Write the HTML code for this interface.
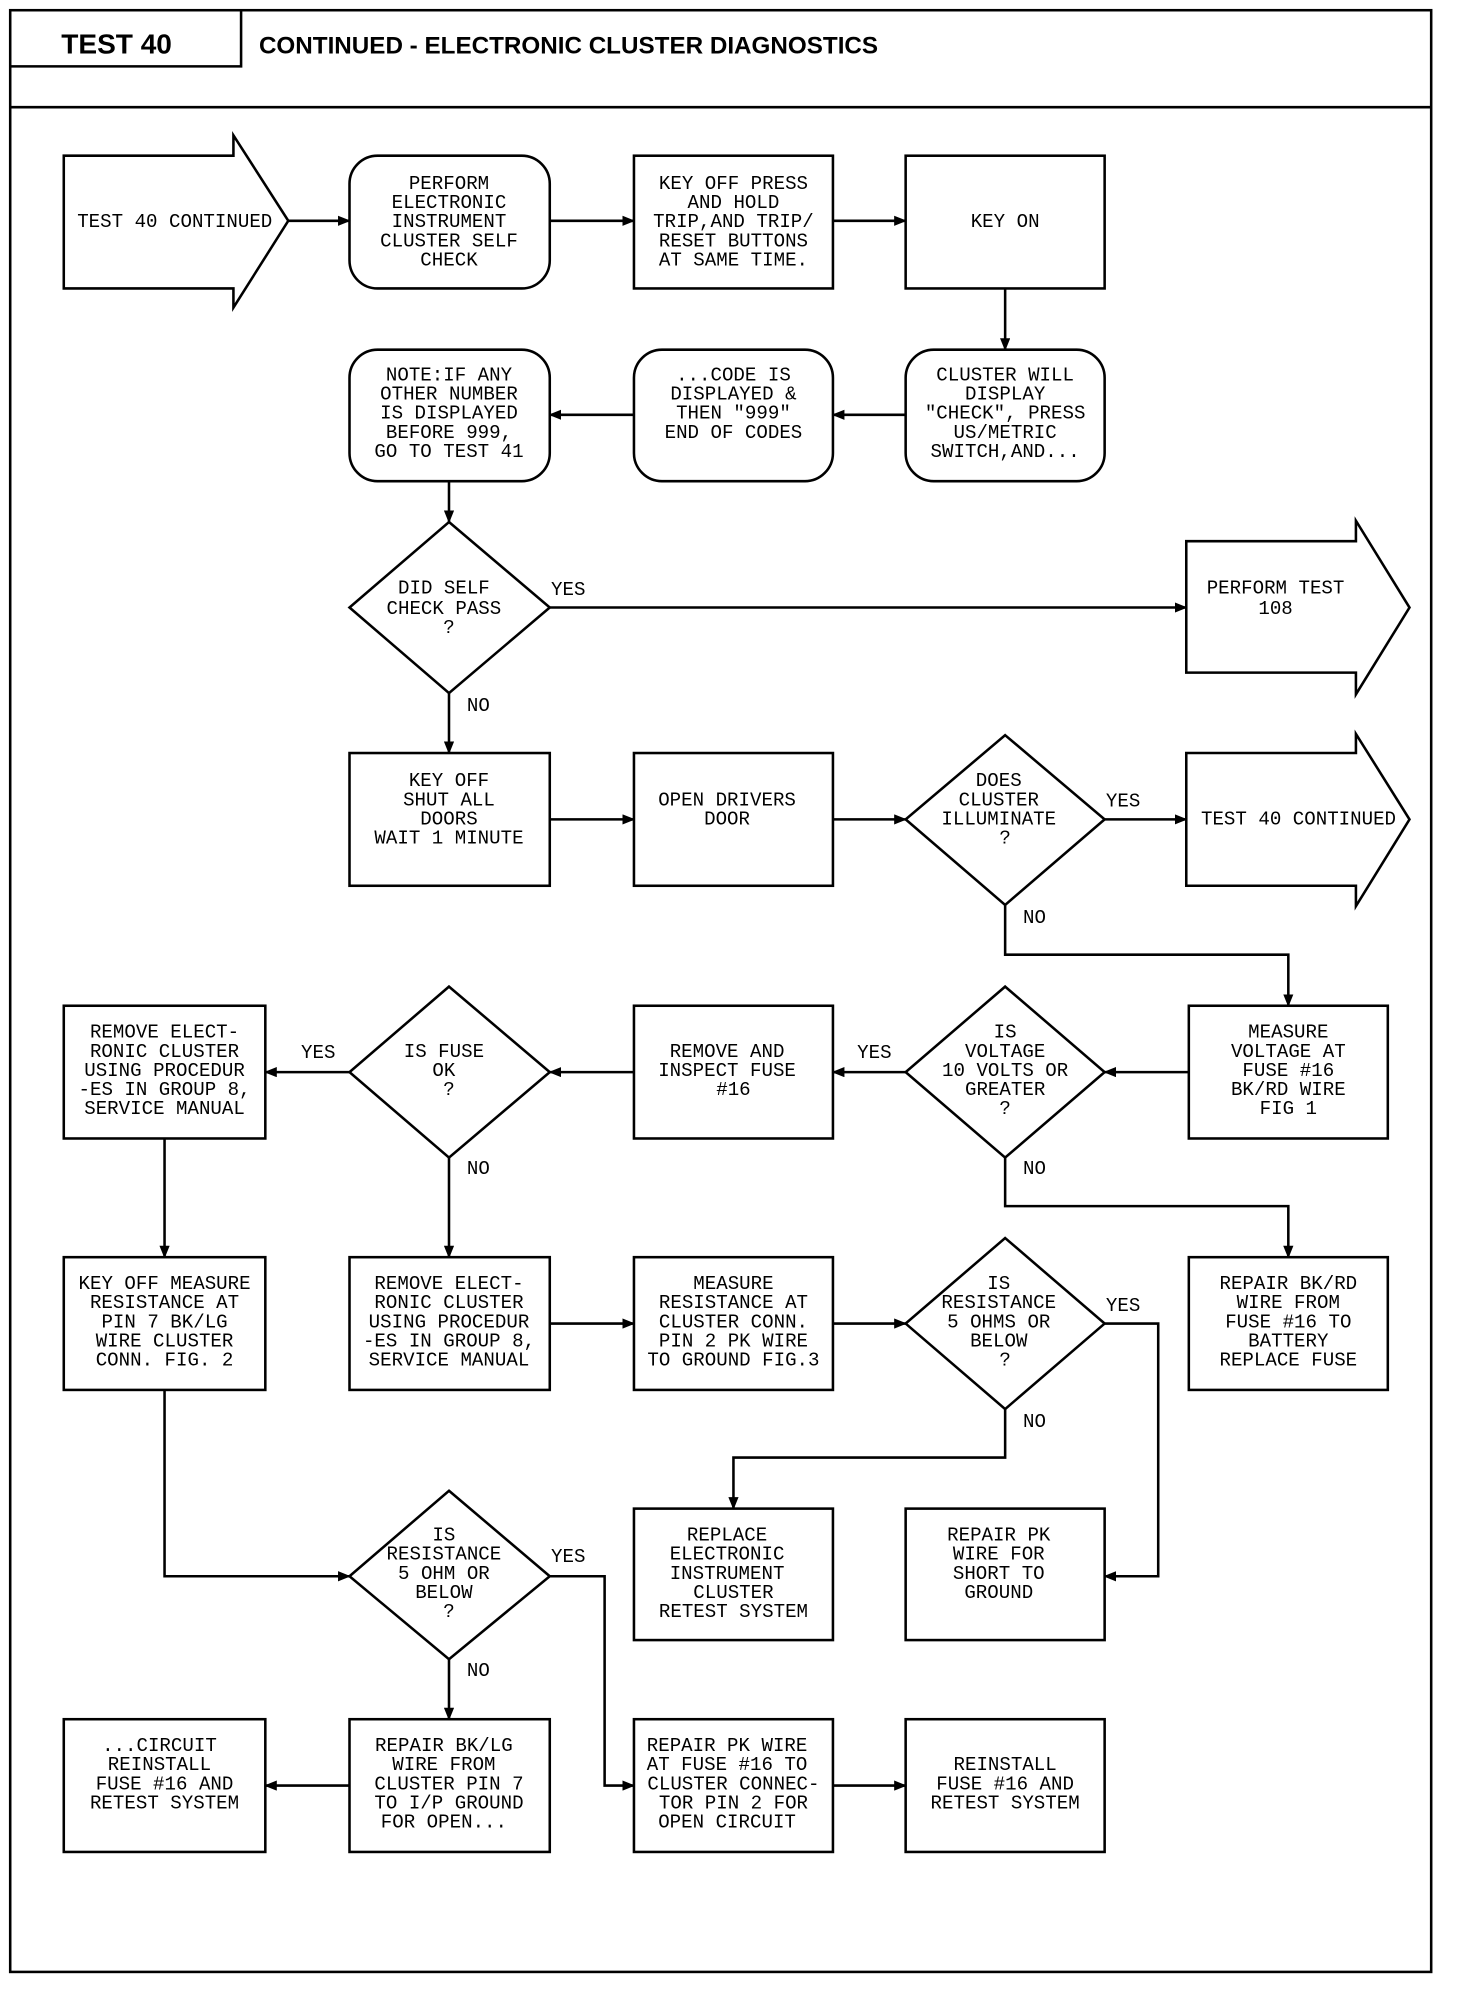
<!DOCTYPE html>
<html><head><meta charset="utf-8"><style>
html,body{margin:0;padding:0;background:#fff;}
svg{display:block;}
text{font-family:"Liberation Mono",monospace;font-size:15px;fill:#000;}
.b{font-family:"Liberation Sans",sans-serif;font-weight:bold;font-size:22px;}
.l{font-family:"Liberation Sans",sans-serif;font-size:15px;}
</style></head><body>
<svg width="1472" height="2000" viewBox="0 0 1154 1567" preserveAspectRatio="none" xmlns="http://www.w3.org/2000/svg">
<defs><marker id="a" markerWidth="10" markerHeight="8" refX="9" refY="4" orient="auto" markerUnits="userSpaceOnUse"><path d="M0,0 L10,4 L0,8 Z" fill="#000"/></marker></defs>
<g fill="none" stroke="#000" stroke-width="2">
<rect x="8" y="8" width="1114" height="1537"/>
<line x1="8" y1="84" x2="1122" y2="84"/>
<polyline points="8,52 189,52 189,8"/>
<path d="M50,122 H183 V106 L226,173 L183,241 V226 H50 Z"/>
<rect x="274" y="122" width="157" height="104" rx="22"/>
<rect x="497" y="122" width="156" height="104"/>
<rect x="710" y="122" width="156" height="104"/>
<rect x="274" y="274" width="157" height="103" rx="22"/>
<rect x="497" y="274" width="156" height="103" rx="22"/>
<rect x="710" y="274" width="156" height="103" rx="22"/>
<path d="M352,409 L431,476 L352,543 L274,476 Z"/>
<path d="M930,424 H1063 V408 L1105,476 L1063,544 V527 H930 Z"/>
<rect x="274" y="590" width="157" height="104"/>
<rect x="497" y="590" width="156" height="104"/>
<path d="M788,576 L866,642 L788,709 L710,642 Z"/>
<path d="M930,590 H1063 V575 L1105,642 L1063,710 V694 H930 Z"/>
<rect x="50" y="788" width="158" height="104"/>
<path d="M352,773 L431,840 L352,907 L274,840 Z"/>
<rect x="497" y="788" width="156" height="104"/>
<path d="M788,773 L866,840 L788,907 L710,840 Z"/>
<rect x="932" y="788" width="156" height="104"/>
<rect x="50" y="985" width="158" height="104"/>
<rect x="274" y="985" width="157" height="104"/>
<rect x="497" y="985" width="156" height="104"/>
<path d="M788,970 L866,1037 L788,1104 L710,1037 Z"/>
<rect x="932" y="985" width="156" height="104"/>
<rect x="497" y="1182" width="156" height="103"/>
<rect x="710" y="1182" width="156" height="103"/>
<path d="M352,1168 L431,1235 L352,1300 L274,1235 Z"/>
<rect x="50" y="1347" width="158" height="104"/>
<rect x="274" y="1347" width="157" height="104"/>
<rect x="497" y="1347" width="156" height="104"/>
<rect x="710" y="1347" width="156" height="104"/>
</g>
<g fill="none" stroke="#000" stroke-width="2" marker-end="url(#a)">
<line x1="226" y1="173" x2="274" y2="173"/>
<line x1="431" y1="173" x2="497" y2="173"/>
<line x1="653" y1="173" x2="710" y2="173"/>
<line x1="788" y1="226" x2="788" y2="274"/>
<line x1="710" y1="325" x2="653" y2="325"/>
<line x1="497" y1="325" x2="431" y2="325"/>
<line x1="352" y1="377" x2="352" y2="409"/>
<line x1="431" y1="476" x2="930" y2="476"/>
<line x1="352" y1="543" x2="352" y2="590"/>
<line x1="431" y1="642" x2="497" y2="642"/>
<line x1="653" y1="642" x2="710" y2="642"/>
<line x1="866" y1="642" x2="930" y2="642"/>
<polyline points="788,709 788,748 1010,748 1010,788"/>
<line x1="932" y1="840" x2="866" y2="840"/>
<line x1="710" y1="840" x2="653" y2="840"/>
<line x1="497" y1="840" x2="431" y2="840"/>
<line x1="274" y1="840" x2="208" y2="840"/>
<polyline points="788,907 788,945 1010,945 1010,985"/>
<line x1="352" y1="907" x2="352" y2="985"/>
<line x1="129" y1="892" x2="129" y2="985"/>
<line x1="431" y1="1037" x2="497" y2="1037"/>
<line x1="653" y1="1037" x2="710" y2="1037"/>
<polyline points="866,1037 908,1037 908,1235 866,1235"/>
<polyline points="788,1104 788,1142 575,1142 575,1182"/>
<polyline points="129,1089 129,1235 274,1235"/>
<polyline points="431,1235 474,1235 474,1399 497,1399"/>
<line x1="352" y1="1300" x2="352" y2="1347"/>
<line x1="274" y1="1399" x2="208" y2="1399"/>
<line x1="653" y1="1399" x2="710" y2="1399"/>
</g>
<text class="b" x="48" y="42">TEST 40</text>
<text class="b" x="203" y="42" style="font-size:19px">CONTINUED - ELECTRONIC CLUSTER DIAGNOSTICS</text>
<g class="l">
<text x="432" y="466">YES</text><text x="366" y="557">NO</text>
<text x="867" y="632">YES</text><text x="802" y="723">NO</text>
<text x="672" y="829">YES</text><text x="236" y="829">YES</text>
<text x="802" y="920">NO</text><text x="366" y="920">NO</text>
<text x="867" y="1027">YES</text><text x="802" y="1118">NO</text>
<text x="432" y="1224">YES</text><text x="366" y="1313">NO</text>
</g>
<g text-anchor="middle">
<text x="137" y="178">TEST 40 CONTINUED</text>
<text x="352" y="148">PERFORM</text><text x="352" y="163">ELECTRONIC</text><text x="352" y="178">INSTRUMENT</text><text x="352" y="193">CLUSTER SELF</text><text x="352" y="208">CHECK</text>
<text x="575" y="148">KEY OFF PRESS</text><text x="575" y="163">AND HOLD</text><text x="575" y="178">TRIP,AND TRIP/</text><text x="575" y="193">RESET BUTTONS</text><text x="575" y="208">AT SAME TIME.</text>
<text x="788" y="178">KEY ON</text>
<text x="788" y="298">CLUSTER WILL</text><text x="788" y="313">DISPLAY</text><text x="788" y="328">"CHECK", PRESS</text><text x="788" y="343">US/METRIC</text><text x="788" y="358">SWITCH,AND...</text>
<text x="575" y="298">...CODE IS</text><text x="575" y="313">DISPLAYED &amp;</text><text x="575" y="328">THEN "999"</text><text x="575" y="343">END OF CODES</text>
<text x="352" y="298">NOTE:IF ANY</text><text x="352" y="313">OTHER NUMBER</text><text x="352" y="328">IS DISPLAYED</text><text x="352" y="343">BEFORE 999,</text><text x="352" y="358">GO TO TEST 41</text>
<text x="348" y="465">DID SELF</text><text x="348" y="481">CHECK PASS</text><text x="352" y="496">?</text>
<text x="1000" y="465">PERFORM TEST</text><text x="1000" y="481">108</text>
<text x="352" y="616">KEY OFF</text><text x="352" y="631">SHUT ALL</text><text x="352" y="646">DOORS</text><text x="352" y="661">WAIT 1 MINUTE</text>
<text x="570" y="631">OPEN DRIVERS</text><text x="570" y="646">DOOR</text>
<text x="783" y="616">DOES</text><text x="783" y="631">CLUSTER</text><text x="783" y="646">ILLUMINATE</text><text x="788" y="661">?</text>
<text x="1018" y="646">TEST 40 CONTINUED</text>
<text x="1010" y="813">MEASURE</text><text x="1010" y="828">VOLTAGE AT</text><text x="1010" y="843">FUSE #16</text><text x="1010" y="858">BK/RD WIRE</text><text x="1010" y="873">FIG 1</text>
<text x="788" y="813">IS</text><text x="788" y="828">VOLTAGE</text><text x="788" y="843">10 VOLTS OR</text><text x="788" y="858">GREATER</text><text x="788" y="873">?</text>
<text x="570" y="828">REMOVE AND</text><text x="570" y="843">INSPECT FUSE</text><text x="575" y="858">#16</text>
<text x="348" y="828">IS FUSE</text><text x="348" y="843">OK</text><text x="352" y="858">?</text>
<text x="129" y="813">REMOVE ELECT-</text><text x="129" y="828">RONIC CLUSTER</text><text x="129" y="843">USING PROCEDUR</text><text x="129" y="858">-ES IN GROUP 8,</text><text x="129" y="873">SERVICE MANUAL</text>
<text x="129" y="1010">KEY OFF MEASURE</text><text x="129" y="1025">RESISTANCE AT</text><text x="129" y="1040">PIN 7 BK/LG</text><text x="129" y="1055">WIRE CLUSTER</text><text x="129" y="1070">CONN. FIG. 2</text>
<text x="352" y="1010">REMOVE ELECT-</text><text x="352" y="1025">RONIC CLUSTER</text><text x="352" y="1040">USING PROCEDUR</text><text x="352" y="1055">-ES IN GROUP 8,</text><text x="352" y="1070">SERVICE MANUAL</text>
<text x="575" y="1010">MEASURE</text><text x="575" y="1025">RESISTANCE AT</text><text x="575" y="1040">CLUSTER CONN.</text><text x="575" y="1055">PIN 2 PK WIRE</text><text x="575" y="1070">TO GROUND FIG.3</text>
<text x="783" y="1010">IS</text><text x="783" y="1025">RESISTANCE</text><text x="783" y="1040">5 OHMS OR</text><text x="783" y="1055">BELOW</text><text x="788" y="1070">?</text>
<text x="1010" y="1010">REPAIR BK/RD</text><text x="1010" y="1025">WIRE FROM</text><text x="1010" y="1040">FUSE #16 TO</text><text x="1010" y="1055">BATTERY</text><text x="1010" y="1070">REPLACE FUSE</text>
<text x="570" y="1207">REPLACE</text><text x="570" y="1222">ELECTRONIC</text><text x="570" y="1237">INSTRUMENT</text><text x="575" y="1252">CLUSTER</text><text x="575" y="1267">RETEST SYSTEM</text>
<text x="783" y="1207">REPAIR PK</text><text x="783" y="1222">WIRE FOR</text><text x="783" y="1237">SHORT TO</text><text x="783" y="1252">GROUND</text>
<text x="348" y="1207">IS</text><text x="348" y="1222">RESISTANCE</text><text x="348" y="1237">5 OHM OR</text><text x="348" y="1252">BELOW</text><text x="352" y="1267">?</text>
<text x="125" y="1372">...CIRCUIT</text><text x="125" y="1387">REINSTALL</text><text x="129" y="1402">FUSE #16 AND</text><text x="129" y="1417">RETEST SYSTEM</text>
<text x="348" y="1372">REPAIR BK/LG</text><text x="348" y="1387">WIRE FROM</text><text x="352" y="1402">CLUSTER PIN 7</text><text x="352" y="1417">TO I/P GROUND</text><text x="348" y="1432">FOR OPEN...</text>
<text x="570" y="1372">REPAIR PK WIRE</text><text x="570" y="1387">AT FUSE #16 TO</text><text x="575" y="1402">CLUSTER CONNEC-</text><text x="575" y="1417">TOR PIN 2 FOR</text><text x="570" y="1432">OPEN CIRCUIT</text>
<text x="788" y="1387">REINSTALL</text><text x="788" y="1402">FUSE #16 AND</text><text x="788" y="1417">RETEST SYSTEM</text>
</g>
</svg>
</body></html>
